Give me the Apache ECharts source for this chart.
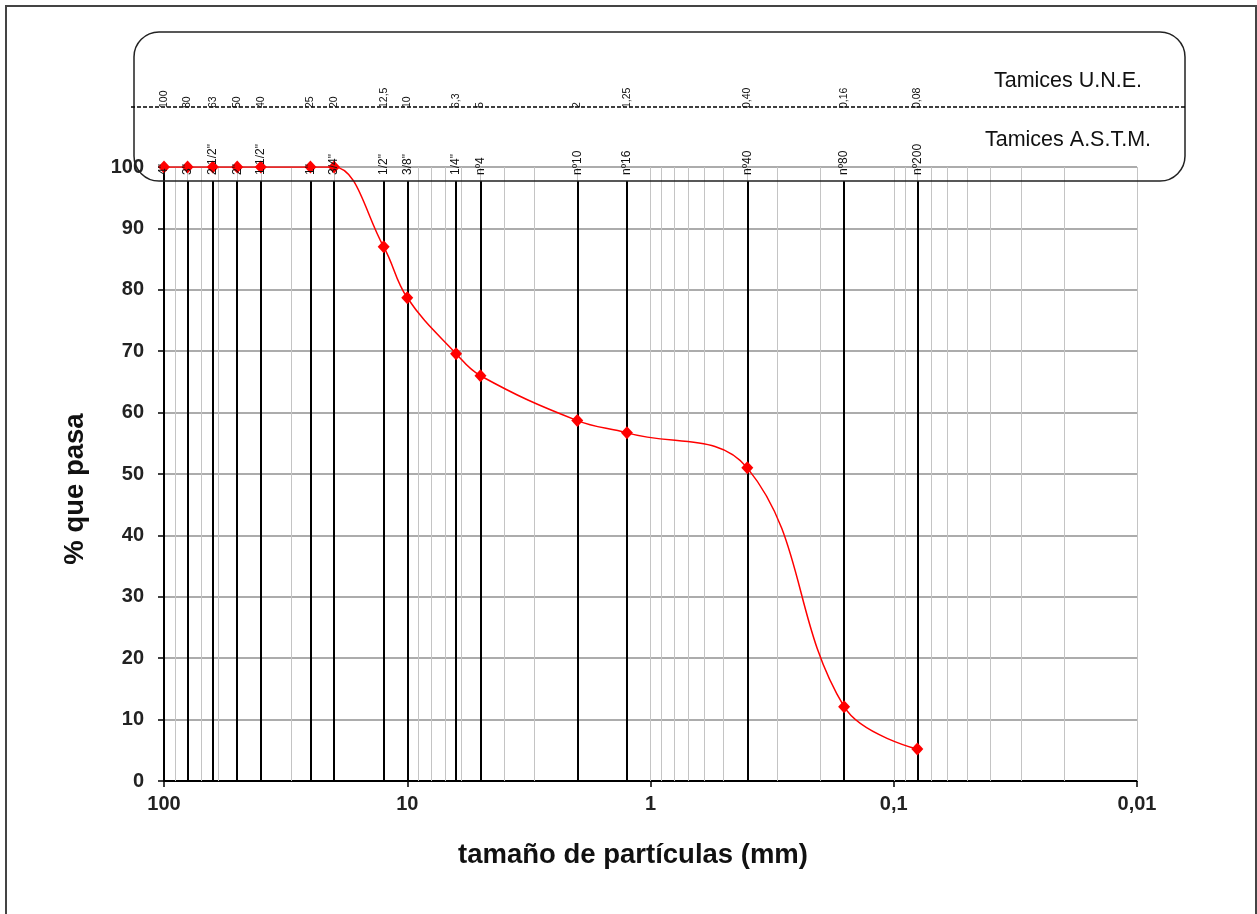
<!DOCTYPE html>
<html>
<head>
<meta charset="utf-8">
<title>Curva granulométrica</title>
<script src="https://cdn.jsdelivr.net/npm/echarts@6.0.0/dist/echarts.min.js"></script>
<style>
  html, body { margin: 0; padding: 0; background: #fff; }
  #chart { width: 1257px; height: 914px; }
</style>
</head>
<body>
<div id="chart"></div>
<script>
// datos del ensayo: tamices (mm) y % que pasa
var tamices = [100, 80, 63, 50, 40, 25, 20, 12.5, 10, 6.3, 5, 2, 1.25, 0.4, 0.16, 0.08];
var pasa = [100, 100, 100, 100, 100, 100, 100, 87, 78.7, 69.6, 66, 58.7, 56.7, 51, 12.1, 5.2];
var etiquetasUNE = ['100', '80', '63', '50', '40', '25', '20', '12,5', '10', '6,3', '5', '2', '1,25', '0,40', '0,16', '0,08'];
var etiquetasASTM = ['4"', '3"', '2 1/2"', '2"', '1 1/2"', '1"', '3/4"', '1/2"', '3/8"', '1/4"', 'nº4', 'nº10', 'nº16', 'nº40', 'nº80', 'nº200'];
// decadas del eje logaritmico
var decadas = [10, 1, 0.1, 0.01];

// lineas verticales finas (2..9 de cada decada + decadas)
var lineasFinas = [1, 0.1, 0.01];
decadas.forEach(function (d) {
  for (var k = 2; k <= 9; k++) lineasFinas.push(+(d * k).toPrecision(3));
});

var fuente = '"Liberation Sans", Arial, sans-serif';
var chart = echarts.init(document.getElementById('chart'));

var option = {
  animation: false,
  backgroundColor: '#fff',
  grid: { left: 164, right: 120, top: 167, bottom: 133 },
  xAxis: {
    type: 'log',
    logBase: 10,
    min: 0.01,
    max: 100,
    inverse: true,
    axisLine: { lineStyle: { color: '#000', width: 2 } },
    axisTick: { show: true, length: 6, lineStyle: { color: '#000', width: 1.5 } },
    axisLabel: {
      fontSize: 20, fontWeight: 'bold', color: '#222', fontFamily: fuente, margin: 13,
      formatter: function (v) { return String(v).replace('.', ','); }
    },
    splitLine: { show: false }
  },
  yAxis: {
    type: 'value',
    min: 0,
    max: 100,
    interval: 10,
    axisLine: { show: true, lineStyle: { color: '#000', width: 2 } },
    axisTick: { show: true, length: 6, lineStyle: { color: '#000', width: 1.5 } },
    axisLabel: { fontSize: 20, fontWeight: 'bold', color: '#222', fontFamily: fuente, margin: 20 },
    splitLine: { lineStyle: { color: '#909090', width: 1.5 } }
  },
  series: [
    // rejilla vertical gris
    {
      type: 'line',
      data: [],
      z: 1,
      silent: true,
      markLine: {
        silent: true,
        symbol: ['none', 'none'],
        label: { show: false },
        lineStyle: { color: '#c4c4c4', width: 1, type: 'solid' },
        data: lineasFinas.map(function (v) { return { xAxis: v }; })
      }
    },
    // lineas de los tamices
    {
      type: 'line',
      data: [],
      z: 2,
      silent: true,
      markLine: {
        silent: true,
        symbol: ['none', 'none'],
        label: { show: false },
        lineStyle: { color: '#000', width: 2, type: 'solid' },
        data: tamices.map(function (t) { return [{ coord: [t, 0] }, { coord: [t, 97.7] }]; })
      }
    },
    // curva granulometrica
    {
      type: 'line',
      z: 10,
      smooth: 0.4,
      symbol: 'diamond',
      symbolSize: [12, 13],
      itemStyle: { color: '#ff0000' },
      lineStyle: { color: '#ff0000', width: 1.5 },
      data: tamices.map(function (t, i) { return [t, pasa[i]]; })
    }
  ]
};
chart.setOption(option);

// recuadro de tamices y textos
var graficos = [
  { type: 'rect', z: 0, shape: { x: 6, y: 6, width: 1250, height: 920 }, style: { fill: 'none', stroke: '#444', lineWidth: 2 } },
  { type: 'rect', z: 50, shape: { x: 134, y: 32, width: 1051, height: 149, r: 25 }, style: { fill: 'none', stroke: '#222', lineWidth: 1.5 } },
  { type: 'line', z: 50, shape: { x1: 131, y1: 107, x2: 1185, y2: 107 }, style: { stroke: '#000', lineWidth: 1.5, lineDash: [4, 2] } },
  { type: 'text', z: 50, x: 1068, y: 81, style: { text: 'Tamices U.N.E.', font: '21.5px ' + fuente, fill: '#111', align: 'center', verticalAlign: 'middle', textAlign: 'center', textVerticalAlign: 'middle' } },
  { type: 'text', z: 50, x: 1068, y: 140, style: { text: 'Tamices A.S.T.M.', font: '21.5px ' + fuente, fill: '#111', align: 'center', verticalAlign: 'middle', textAlign: 'center', textVerticalAlign: 'middle' } },
  { type: 'text', z: 50, x: 75, y: 489, rotation: Math.PI / 2, style: { text: '% que pasa', font: 'bold 27.5px ' + fuente, fill: '#111', align: 'center', verticalAlign: 'middle', textAlign: 'center', textVerticalAlign: 'middle' } },
  { type: 'text', z: 50, x: 633, y: 855, style: { text: 'tamaño de partículas (mm)', font: 'bold 27.5px ' + fuente, fill: '#111', align: 'center', verticalAlign: 'middle', textAlign: 'center', textVerticalAlign: 'middle' } }
];

tamices.forEach(function (t, i) {
  var px = chart.convertToPixel({ xAxisIndex: 0 }, t);
  graficos.push({
    type: 'text', z: 50, x: px, y: 108, rotation: Math.PI / 2,
    style: { text: etiquetasUNE[i], font: '10.5px ' + fuente, fill: '#111', align: 'left', verticalAlign: 'middle', textAlign: 'left', textVerticalAlign: 'middle' }
  });
  graficos.push({
    type: 'text', z: 50, x: px, y: 175, rotation: Math.PI / 2,
    style: { text: etiquetasASTM[i], font: '12px ' + fuente, fill: '#111', align: 'left', verticalAlign: 'middle', textAlign: 'left', textVerticalAlign: 'middle' }
  });
});

chart.setOption({ graphic: { elements: graficos } });
</script>
</body>
</html>
